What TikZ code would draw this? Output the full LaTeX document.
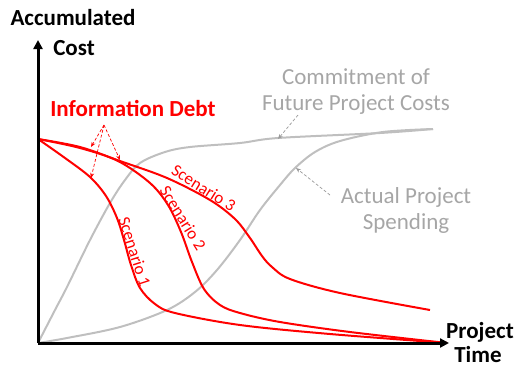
\documentclass[tikz,border=0pt]{standalone}
\usepackage{fontspec}
\setmainfont{Carlito}
\usetikzlibrary{arrows.meta}
\definecolor{cgray}{HTML}{BFBFBF}
\definecolor{tgray}{HTML}{A6A6A6}
\definecolor{cred}{HTML}{FF0000}
\tikzset{
  axisline/.style={line width=3pt,-{Triangle[length=9pt,width=9pt]}},
  graycurve/.style={cgray,line width=2pt},
  redcurve/.style={cred,line width=2pt},
  reddash/.style={cred,dashed,dash pattern=on 3pt off 2pt,line width=0.7pt,-{Stealth[length=5pt,width=4pt]}},
  graydash/.style={gray!80,dashed,dash pattern=on 3pt off 2pt,line width=0.7pt,-{Stealth[length=5pt,width=4pt]}},
  axlabel/.style={font=\fontsize{23}{25}\selectfont\bfseries,align=center,inner sep=0pt},
  graylabel/.style={tgray,font=\fontsize{23}{27}\selectfont,align=center,inner sep=0pt},
  scenlabel/.style={cred,font=\fontsize{17}{19}\selectfont,inner sep=1pt,anchor=south}
}
\begin{document}
\begin{tikzpicture}[x=1pt,y=-1pt]
\useasboundingbox (0,0) rectangle (516,368);
\coordinate (O) at (38,343);
\coordinate (ytip) at (38,40);
\coordinate (xtip) at (449,343);
\coordinate (S) at (38,139);
% gray curves
\draw[graycurve] plot[smooth,tension=0.55] coordinates {(38,343) (55,310) (67,287) (90,240) (110,203) (125,180) (140,163) (165,152) (190,147) (240,143) (278,138) (380,133) (433,129)};
\draw[graycurve] plot[smooth,tension=0.55] coordinates {(38,343) (67,338) (120,327) (167,310) (195,292) (217,270) (240,240) (260,210) (280,185) (295,168) (315,152) (340,141) (383,132) (433,129)};
% red curves
\draw[redcurve] plot[smooth,tension=0.55] coordinates {(38,139) (80,147) (120,161) (167,178) (210,200) (235,219) (250,238) (262,256) (272,267) (290,279) (340,293) (430,310)};
\draw[redcurve] plot[smooth,tension=0.55] coordinates {(38,139) (80,148) (118,161) (150,183) (168,205) (181,232) (192,262) (204,289) (220,305) (240,313) (280,322) (350,332) (447,343)};
\draw[redcurve] plot[smooth,tension=0.55] coordinates {(38,139) (65,158) (90,177) (106,196) (117,218) (124,240) (131,265) (140,288) (155,304) (175,313) (240,325) (330,334) (447,343)};
% axes
\draw[axisline] (O) -- (ytip);
\draw[axisline] (O) -- (xtip);
% labels
\node[axlabel] (acc) at (73,18) {Accumulated};
\node[axlabel] (cost) at (74,48) {Cost};
\node[axlabel] (proj) at (480,332) {Project};
\node[axlabel] (time) at (478,355) {Time};
\node[axlabel,cred] (info) at (133,108) {Information Debt};
\node[graylabel] (commit) at (356,77) {Commitment of};
\node[graylabel] (future) at (356,105) {Future Project Costs};
\node[graylabel] (actual) at (406,197) {Actual Project};
\node[graylabel] (spend) at (406,223) {Spending};
\node[scenlabel,rotate=-32] (s3) at (200,194) {Scenario 3};
\node[scenlabel,rotate=-58] (s2) at (177,222) {Scenario 2};
\node[scenlabel,rotate=-72] (s1) at (128,254) {Scenario 1};
% dashed pointers
\coordinate (apex) at (104,125);
\coordinate (t1) at (91,147);
\coordinate (t2) at (120,160);
\coordinate (t3) at (91,178);
\draw[reddash] (apex) -- (t1);
\draw[reddash] (apex) -- (t2);
\draw[reddash] (apex) -- (t3);
\coordinate (g1s) at (298,115);
\coordinate (g1e) at (278,139);
\coordinate (g2s) at (330,195);
\coordinate (g2e) at (296,168);
\draw[graydash] (g1s) -- (g1e);
\draw[graydash] (g2s) -- (g2e);
\end{tikzpicture}
\end{document}
